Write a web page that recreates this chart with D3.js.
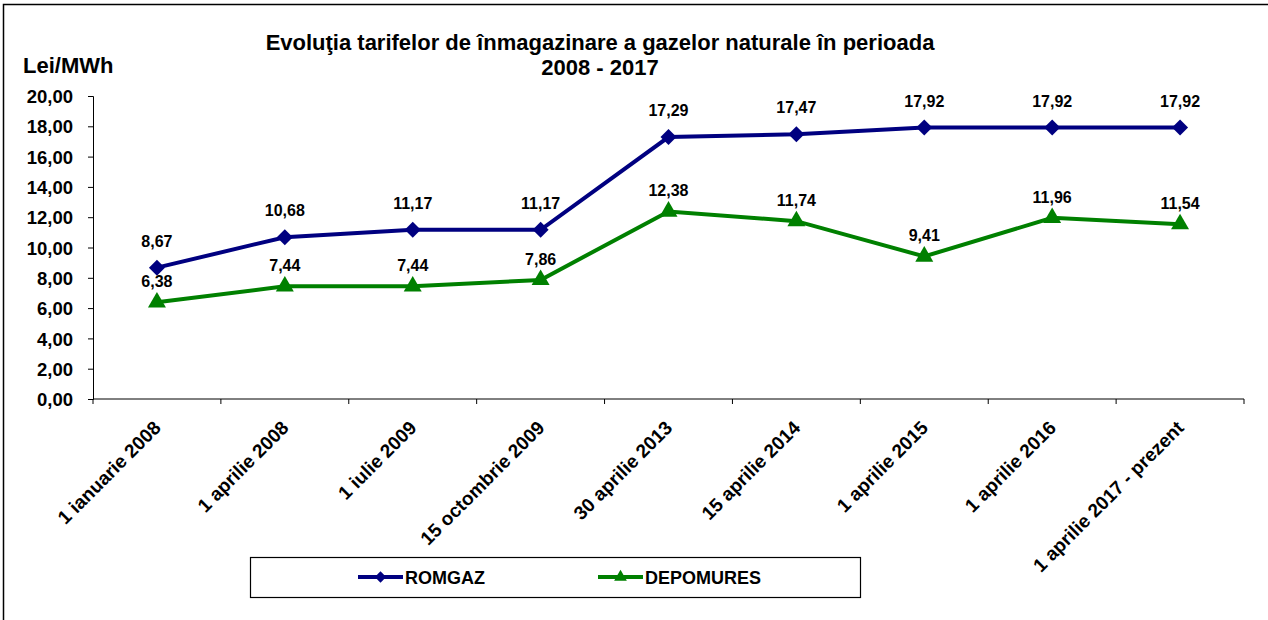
<!DOCTYPE html>
<html lang="ro">
<head>
  <meta charset="UTF-8" />
  <title>Evoluţia tarifelor de înmagazinare</title>
  <script src="https://d3js.org/d3.v7.min.js"></script>
  <style>
    body { margin: 0; background: #fff; }
    svg { display: block; font-family: "Liberation Sans", Arial, sans-serif; }
    .tick text { font-weight: bold; fill: #000; }
    .lbl { font-size: 16px; font-weight: bold; fill: #000; }
  </style>
</head>
<body>
  <svg id="chart"></svg>
  <script>
    const categories = [
      "1 ianuarie 2008", "1 aprilie 2008", "1 iulie 2009", "15 octombrie 2009",
      "30 aprilie 2013", "15 aprilie 2014", "1 aprilie 2015", "1 aprilie 2016",
      "1 aprilie 2017 - prezent"
    ];
    const romgaz    = [8.67, 10.68, 11.17, 11.17, 17.29, 17.47, 17.92, 17.92, 17.92];
    const depomures = [6.38, 7.44, 7.44, 7.86, 12.38, 11.74, 9.41, 11.96, 11.54];
    const yTicks = [0, 2, 4, 6, 8, 10, 12, 14, 16, 18, 20];

    const W = 1268, H = 620;
    const plot = { left: 93, right: 1244, top: 96, bottom: 399 };

    const svg = d3.select("#chart").attr("width", W).attr("height", H);

    // outer frame (right and bottom edges fall outside the picture)
    svg.append("rect")
      .attr("x", 3.5).attr("y", 4.5)
      .attr("width", W + 10).attr("height", H + 10)
      .attr("fill", "none").attr("stroke", "#000").attr("stroke-width", 1.5);

    const ro = d3.formatLocale({ decimal: ",", thousands: ".", grouping: [3], currency: ["", ""] });
    const fmt = ro.format(".2f");

    const x = d3.scaleBand().domain(categories).range([plot.left, plot.right]).padding(0);
    const y = d3.scaleLinear().domain([0, 20]).range([plot.bottom, plot.top]);
    const cx = d => x(d) + x.bandwidth() / 2;

    // y axis
    const yAxis = svg.append("g")
      .attr("transform", `translate(${plot.left},0)`)
      .call(d3.axisLeft(y).tickValues(yTicks).tickFormat(fmt).tickSize(5).tickPadding(15));
    yAxis.selectAll("text").style("font-size", "18.5px").attr("dy", "0.36em");
    yAxis.select(".domain").attr("stroke", "#000");

    // x axis with ticks at category boundaries
    const xAxis = svg.append("g").attr("transform", `translate(0,${plot.bottom})`);
    xAxis.append("line")
      .attr("x1", plot.left).attr("x2", plot.right)
      .attr("stroke", "#000");
    xAxis.selectAll(".xt")
      .data(categories.concat(["__end"]))
      .join("line")
      .attr("class", "xt")
      .attr("x1", (d, i) => i < categories.length ? x(d) : plot.right)
      .attr("x2", (d, i) => i < categories.length ? x(d) : plot.right)
      .attr("y1", 0).attr("y2", 5)
      .attr("stroke", "#000");
    xAxis.selectAll(".xl")
      .data(categories)
      .join("text")
      .attr("class", "xl")
      .attr("transform", d => `translate(${cx(d) + 5},${30}) rotate(-45)`)
      .attr("text-anchor", "end")
      .style("font-size", "19px")
      .style("font-weight", "bold")
      .text(d => d);

    // title and unit
    svg.append("text")
      .attr("x", 600).attr("y", 50)
      .attr("text-anchor", "middle")
      .style("font-size", "22px").style("font-weight", "bold")
      .text("Evoluţia tarifelor de înmagazinare a gazelor naturale în perioada");
    svg.append("text")
      .attr("x", 600).attr("y", 75)
      .attr("text-anchor", "middle")
      .style("font-size", "22px").style("font-weight", "bold")
      .text("2008 - 2017");
    svg.append("text")
      .attr("x", 23).attr("y", 73)
      .style("font-size", "22px").style("font-weight", "bold")
      .text("Lei/MWh");

    const diamond = { draw(ctx, size) { const r = Math.sqrt(size / 2); ctx.moveTo(0, -r); ctx.lineTo(r, 0); ctx.lineTo(0, r); ctx.lineTo(-r, 0); ctx.closePath(); } };

    const series = [
      { name: "ROMGAZ", values: romgaz, color: "#000080", symbol: diamond, size: 128, off: 21 },
      { name: "DEPOMURES", values: depomures, color: "#008000", symbol: d3.symbolTriangle, size: 140, off: 15 }
    ];

    const line = d3.line().x(d => cx(d.c)).y(d => y(d.v));

    series.forEach(s => {
      const pts = categories.map((c, i) => ({ c, v: s.values[i] }));
      svg.append("path")
        .datum(pts)
        .attr("d", line)
        .attr("fill", "none")
        .attr("stroke", s.color)
        .attr("stroke-width", 4);
      svg.selectAll(null)
        .data(pts)
        .join("path")
        .attr("transform", d => `translate(${cx(d.c)},${y(d.v)})`)
        .attr("d", d3.symbol().type(s.symbol).size(s.size))
        .attr("fill", s.color);
      svg.selectAll(null)
        .data(pts)
        .join("text")
        .attr("class", "lbl")
        .attr("x", d => cx(d.c))
        .attr("y", d => y(d.v) - s.off)
        .attr("text-anchor", "middle")
        .text(d => fmt(d.v));
    });

    // legend
    const lg = svg.append("g");
    lg.append("rect")
      .attr("x", 250.5).attr("y", 557.5)
      .attr("width", 610).attr("height", 40)
      .attr("fill", "#fff").attr("stroke", "#000").attr("stroke-width", 1.2);
    const lx = [358, 598];
    series.forEach((s, i) => {
      const g = lg.append("g").attr("transform", `translate(${lx[i]},577)`);
      g.append("line").attr("x1", 0).attr("x2", 45)
        .attr("stroke", s.color).attr("stroke-width", 4);
      g.append("path")
        .attr("transform", "translate(22.5,0)")
        .attr("d", d3.symbol().type(s.symbol).size(s.size * 0.5))
        .attr("fill", s.color);
      g.append("text")
        .attr("x", 47).attr("y", 6.5)
        .style("font-size", "18px").style("font-weight", "bold")
        .text(s.name);
    });
  </script>
</body>
</html>
